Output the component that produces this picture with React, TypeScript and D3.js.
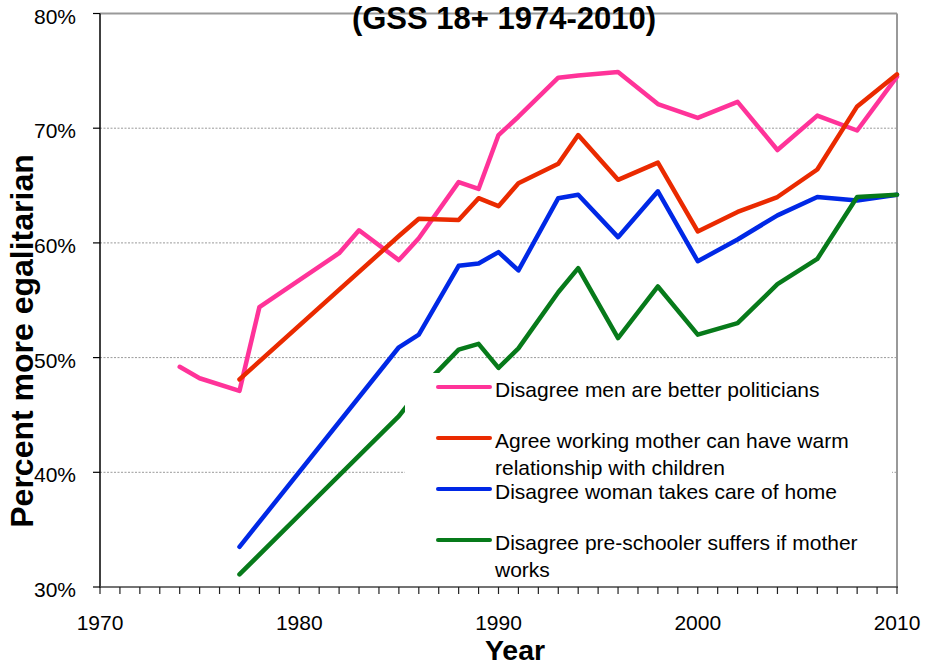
import React from "react";
import * as d3 from "d3";

const yearsPol = [1974, 1975, 1977, 1978, 1982, 1983, 1985, 1986, 1988, 1989, 1990, 1991, 1993, 1994, 1996, 1998, 2000, 2002, 2004, 2006, 2008, 2010];
const pinkValues = [49.2, 48.2, 47.1, 54.4, 59.1, 61.1, 58.5, 60.4, 65.3, 64.7, 69.4, 71.0, 74.4, 74.6, 74.9, 72.1, 70.9, 72.3, 68.1, 71.1, 69.8, 74.5];

const yearsFam = [1977, 1985, 1986, 1988, 1989, 1990, 1991, 1993, 1994, 1996, 1998, 2000, 2002, 2004, 2006, 2008, 2010];
const redValues = [48.1, 60.6, 62.1, 62.0, 63.9, 63.2, 65.2, 66.9, 69.4, 65.5, 67.0, 61.0, 62.7, 64.0, 66.4, 71.9, 74.7];
const blueValues = [33.5, 50.9, 52.0, 58.0, 58.2, 59.2, 57.6, 63.9, 64.2, 60.5, 64.5, 58.4, 60.3, 62.4, 64.0, 63.7, 64.2];
const greenValues = [31.1, 44.9, 47.1, 50.7, 51.2, 49.1, 50.8, 55.7, 57.8, 51.7, 56.2, 52.0, 53.0, 56.4, 58.6, 64.0, 64.2];

const yTicks = [30, 40, 50, 60, 70, 80];
const xTicks = [1970, 1980, 1990, 2000, 2010];

const seriesNames = [
  ["Disagree men are better politicians"],
  ["Agree working mother can have warm", "relationship with children"],
  ["Disagree woman takes care of home"],
  ["Disagree pre-schooler suffers if mother", "works"],
];

const titleText = "(GSS 18+ 1974-2010)";
const yLabel = "Percent more egalitarian";
const xLabel = "Year";

export default function App() {
  const left = 100, right = 897, top = 13.5, bottom = 587;
  const x = d3.scaleLinear().domain([1970, 2010]).range([left, right]);
  const y = d3.scaleLinear().domain([30, 80]).range([bottom, top]);
  const font = "'Liberation Sans', Arial, sans-serif";

  const series = [
    { years: yearsPol, values: pinkValues, color: "#FF3399" },
    { years: yearsFam, values: redValues, color: "#EA2A00" },
    { years: yearsFam, values: blueValues, color: "#0028E6" },
    { years: yearsFam, values: greenValues, color: "#077A1A" },
  ];

  const lineGen = d3
    .line<[number, number]>()
    .x((d) => x(d[0]))
    .y((d) => y(d[1]));

  const minorYears = d3.range(1970, 2011);
  const legendY = [387, 438, 489, 540];

  return (
    <svg width={929} height={666} style={{ position: "absolute", left: 0, top: 0, background: "#fff" }} fontFamily={font}>
      {/* gridlines */}
      {yTicks.filter((t) => t > 30 && t < 80).map((t) => (
        <line key={"g" + t} x1={left} x2={right} y1={y(t)} y2={y(t)} stroke="#9a9a9a" strokeWidth={1} strokeDasharray="2,1.5" />
      ))}
      {/* frame top & right */}
      <line x1={left} x2={right} y1={top} y2={top} stroke="#999" strokeWidth={2} />
      <line x1={right} x2={right} y1={top} y2={bottom} stroke="#999" strokeWidth={2} />
      {/* series */}
      {series.map((s, i) => (
        <path
          key={"s" + i}
          d={lineGen(s.years.map((yr, j) => [yr, s.values[j]] as [number, number])) || ""}
          fill="none"
          stroke={s.color}
          strokeWidth={4.5}
          strokeLinejoin="round"
          strokeLinecap="round"
        />
      ))}
      {/* legend box */}
      <rect x={405} y={373} width={487} height={212} fill="#fff" />
      {seriesNames.map((lines, i) => (
        <g key={"l" + i}>
          <line x1={438} x2={490} y1={legendY[i]} y2={legendY[i]} stroke={series[i].color} strokeWidth={4} strokeLinecap="round" />
          {lines.map((ln, k) => (
            <text key={k} x={495} y={legendY[i] + 10 + k * 27} fontSize={21} fill="#000">
              {ln}
            </text>
          ))}
        </g>
      ))}
      {/* axes */}
      <line x1={left} x2={left} y1={top} y2={bottom + 1} stroke="#000" strokeWidth={1.5} />
      <line x1={left} x2={right + 1} y1={bottom} y2={bottom} stroke="#444" strokeWidth={1.5} />
      {yTicks.map((t) => (
        <g key={"yt" + t}>
          <line x1={left - 7} x2={left} y1={y(t)} y2={y(t)} stroke="#000" strokeWidth={1.2} />
          <text x={76} y={y(t) + 10} fontSize={21} textAnchor="end" fill="#000">
            {t}%
          </text>
        </g>
      ))}
      {minorYears.map((yr) => (
        <line key={"xt" + yr} x1={x(yr)} x2={x(yr)} y1={bottom} y2={bottom + 7} stroke="#222" strokeWidth={1.2} />
      ))}
      {xTicks.map((t) => (
        <text key={"xl" + t} x={x(t)} y={630} fontSize={21} textAnchor="middle" fill="#000">
          {t}
        </text>
      ))}
      {/* titles */}
      <text x={504} y={29} fontSize={31} fontWeight="bold" textAnchor="middle" fill="#000">
        {titleText}
      </text>
      <text transform={`translate(33, 341) rotate(-90)`} fontSize={32} fontWeight="bold" textAnchor="middle" fill="#000">
        {yLabel}
      </text>
      <text x={515} y={660} fontSize={28.5} fontWeight="bold" textAnchor="middle" fill="#000">
        {xLabel}
      </text>
    </svg>
  );
}
